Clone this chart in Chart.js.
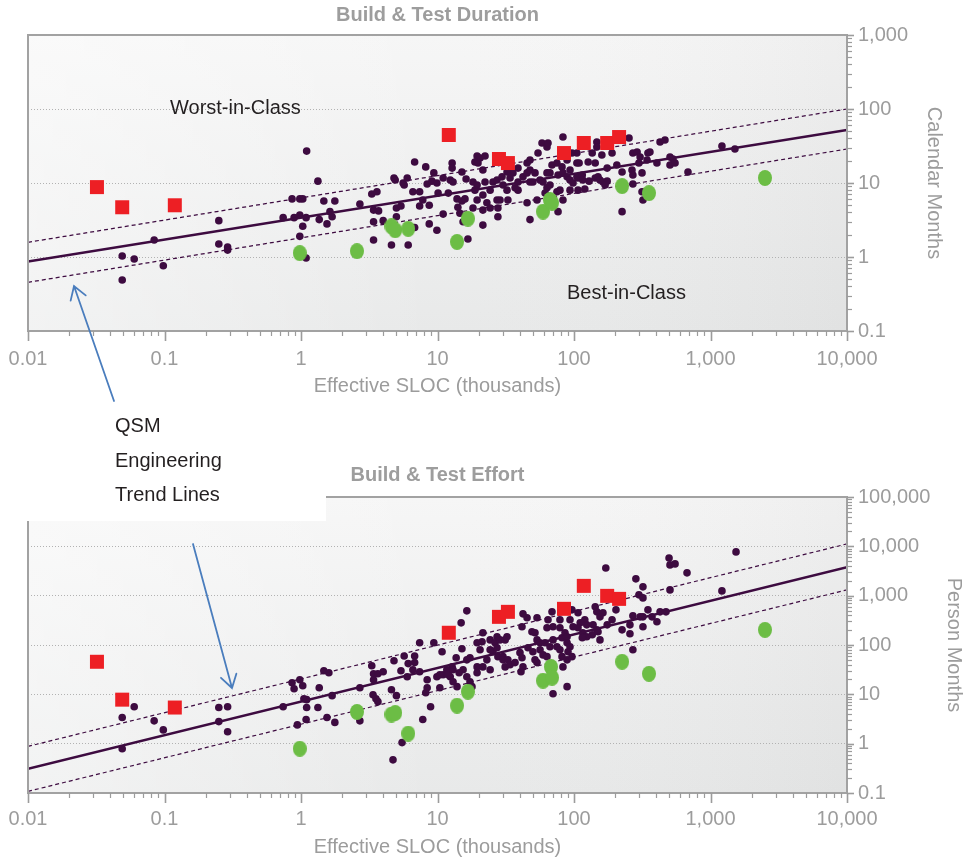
<!DOCTYPE html>
<html>
<head>
<meta charset="utf-8">
<script src="https://cdn.jsdelivr.net/npm/chart.js@4.4.1/dist/chart.umd.min.js"></script>
<style>
  body { margin: 0; background: #fff; width: 969px; height: 862px; position: relative; overflow: hidden;
         font-family: "Liberation Sans", Arial, Helvetica, sans-serif; }
  canvas { position: absolute; left: 0; }
  #durationChart { top: 0; }
  #effortChart { top: 460px; }
  #mask { position: absolute; left: 0; top: 430px; width: 326px; height: 91px; background: #fff; }
  .note { position: absolute; font-size: 20px; line-height: 20px; color: #231f20; white-space: nowrap; }
  #arrows { top: 0; }
</style>
</head>
<body>
<canvas id="durationChart" width="969" height="400"></canvas>
<canvas id="effortChart" width="969" height="402"></canvas>
<div id="mask"></div>
<div class="note" style="left:170px;top:97px">Worst-in-Class</div>
<div class="note" style="left:567px;top:282px">Best-in-Class</div>
<div class="note" style="left:115px;top:415px">QSM</div>
<div class="note" style="left:115px;top:450px">Engineering</div>
<div class="note" style="left:115px;top:484px">Trend Lines</div>
<canvas id="arrows" width="969" height="862"></canvas>
<script>
// tick labels
const slocTicks = [0.01, 0.1, 1, 10, 100, 1000, 10000];
const monthTicks = [0.1, 1, 10, 100, 1000];
const effortTicks = [0.1, 1, 10, 100, 1000, 10000, 100000];

// Build & Test Duration: [ESLOC thousands, calendar months]
const durationProjects = [
  [0.049,1.03],[0.060,0.94],[0.049,0.49],[0.084,1.7],[0.098,0.76],[0.25,3.1],[0.25,1.5],[0.29,1.36],[0.29,1.24],
  [0.74,3.4],[0.86,6.1],[0.89,3.4],[0.98,6.1],[0.98,3.7],[1.03,6.1],[1.03,2.6],[0.98,1.9],[1.09,3.4],[1.09,0.97],[1.1,27],
  [1.33,10.6],[1.36,3.2],[1.47,5.7],[1.55,2.8],[1.63,4.1],[1.69,3.5],[1.77,5.7],
  [2.7,5.2],[3.3,7.1],[3.6,7.6],[3.4,4.3],[3.7,4.2],[3.4,3.0],[3.4,1.7],[4.0,3.1],[4.6,1.45],[5.0,4.6],[5.0,3.5],[5.4,4.9],
  [4.8,11.7],[4.9,11],[5.6,10],[5.7,9.4],[6.0,11.7],[6.8,19.2],[6.6,7.6],[7.4,7.6],[6.8,2.5],[6.1,1.45],
  [8.2,16.5],[8.4,9.7],[9.4,13.7],[8.7,5.0],[7.4,4.9],[7.8,5.9],[8.7,2.8],[9.9,2.3],[9.1,10.6],
  [9.9,10],[11,11.7],[12.8,18.6],[12.8,15.9],[15.1,14.1],[12.4,11],[13,10.3],[16.2,11.3],[19.5,23.2],[20.5,21.8],[22.3,23.2],
  [18.8,19.2],[19.8,18.6],[18.2,10.3],[19.5,9.4],[18.8,8.0],[21.5,15],[22.3,10.3],[25.5,10.3],[27.3,11],[29.7,12.1],[30.2,9.4],
  [10.1,7.3],[12,7.3],[13.9,6.1],[15.1,5.7],[15.9,6.1],[14.1,4.7],[11,3.8],[15.4,3.0],[16.7,1.75],[18.2,4.6],[19.5,5.9],
  [21.5,6.9],[23,5.4],[21.5,4.3],[21.5,2.7],[24.3,4.6],[27.3,5.9],[28.7,5.9],[27.7,4.6],[27.7,3.5],[32.8,5.9],[38.9,8.0],
  [38.9,10.3],[42.3,12.1],[45.3,13.7],[47.6,15],[51.8,13.7],[56.4,11],[59.3,10.3],[47.6,10.3],[50,10.3],[45.3,5.4],[47.6,3.2],
  [53.6,5.9],[63.4,8.6],[66.7,9.4],[75,7.6],[78.9,8.0],[83,5.9],[76.4,4.1],[58.3,34.7],[63.4,30.6],[64.5,34.7],[54.5,25.4],
  [83,41.8],[69,17.5],[75,18.6],[81.7,16.5],[63.4,13.7],[66.7,13.7],[76.4,12.8],[83,13.7],[89,12.1],[93.5,11],[98.4,10],
  [107,11.7],[105,18.6],[107,8.0],[93.5,8.0],[105,25.4],[89,20.5],[45.3,18.6],[38.9,15.9],[47.6,20.5],[35.7,13.7],[32.3,14.1],
  [34,11.7],[24.3,8.0],[32.3,8.0],[37,8.6],[96.6,25.4],[93.5,15],[109,18.6],[127,19.2],[143,18.6],[136,25.4],[147,35.8],
  [147,30.6],[160,23.9],[190,25.4],[175,15.9],[206,17.5],[225,14.1],[253,40.6],[266,15],[270,12.8],[270,25.4],[290,26.2],
  [305,22.5],[348,25.4],[360,26.2],[343,20.5],[315,13.7],[299,18.6],[405,18.6],[427,35.8],[464,38.1],[505,22.5],[531,21.1],
  [505,17.5],[550,18.6],[684,14.1],[1213,31.6],[1510,28.8],[105,12.1],[115,12.8],[116,11],[120,8.3],[129,10.6],[143,11.7],
  [150,12.1],[155,11],[163,10.3],[175,10.6],[169,9.4],[270,9.7],[315,7.6],[320,5.9],[225,4.1],[61.4,7.3],[14.6,3.9]
];
const durationWorst = [[0.032,8.8],[0.049,4.7],[0.119,5.0],[12.1,44.5],[28.2,21.1],[32.8,18.6],[84.5,25.4],[118,34.7],[175,34.7],[214,41.8]];
const durationBest = [[0.98,1.13],[2.57,1.2],[4.6,2.6],[4.9,2.3],[6.1,2.4],[13.9,1.6],[16.7,3.3],[59.3,4.1],[66.7,5.9],[69,5.4],[225,9.1],[354,7.3],[2506,11.7]];
const durationTrend = [[0.01,0.87],[10000,52]];
const durationTrendHigh = [[0.01,1.58],[10000,100]];
const durationTrendLow = [[0.01,0.455],[10000,28.8]];

// Build & Test Effort: [ESLOC thousands, person months]
const effortProjects = [
  [0.049,3.4],[0.060,5.6],[0.049,0.79],[0.084,2.9],[0.098,1.9],[0.25,5.4],[0.29,5.6],[0.25,2.8],[0.29,1.75],
  [0.74,5.6],[0.86,17.2],[0.89,13],[0.98,19.8],[1.03,14.9],[0.94,2.4],[1.05,8.1],[1.1,7.8],[1.1,5.4],[1.09,3.1],[1.33,5.4],
  [1.36,13.6],[1.47,30],[1.6,27.4],[1.55,3.4],[1.69,9.4],[1.77,2.7],[2.7,13.6],[2.7,2.9],[3.3,38],[3.4,26.1],[3.66,26.1],
  [4.0,28.7],[3.4,19.8],[3.37,9.8],[3.54,8.1],[3.66,7.1],[4.6,12.4],[5.0,9.4],[4.8,48],[5.5,1.05],[4.72,0.47],[5.7,60],
  [6.1,42],[6.8,60],[6.8,44],[6.6,31.5],[5.4,30],[6.0,22.7],[7.4,111],[7.4,28.7],[8.4,19.8],[8.4,13.6],[8.2,10.8],[8.9,5.6],
  [7.8,3.1],[9.4,111],[9.9,22.7],[11,24.9],[10.4,13.6],[10.8,73],[12.8,36],[12.4,22.7],[13,18],[13.7,55],[15.1,84],[14.9,281],
  [16.4,492],[15.4,31.5],[16.4,22.7],[17.3,55],[17.9,14.3],[19.5,111],[19.5,36],[19.5,27.4],[21.5,177],[16.4,50],[21.2,116],
  [20.5,80],[24.3,127],[26.4,111],[28.7,127],[25.5,73],[27.7,58],[30.2,58],[24.3,80],[21.5,36],[14.4,27.4],[11.7,31.5],[12,24.9],
  [13.9,14.3],[17.3,18],[27.3,88],[30.2,50],[31.3,36],[32.8,50],[34,40],[24.3,31.5],[23,50],[31.3,127],[32.3,147],[27.3,147],
  [41.6,234],[45.3,356],[42.3,428],[53.6,356],[49.2,185],[51.8,177],[53.6,127],[56.4,111],[46,88],[50,73],[56.4,80],[40.2,70],
  [41.6,55],[37,44],[42.3,36],[51.8,50],[53.6,44],[59.3,63],[63.4,58],[61.4,111],[66.7,92],[70.2,127],[63.4,223],[70.2,234],
  [64.5,324],[69,470],[78.9,223],[81.7,140],[75,92],[78.9,80],[81.7,58],[40.9,28.7],[89,14.3],[70.2,10.3],[85.9,566],[96.6,516],
  [107,449],[143,593],[147,470],[163,449],[155,372],[171,3650],[284,2190],[320,1510],[299,1040],[320,900],[497,5820],[505,4200],
  [550,4400],[673,2900],[505,1310],[1213,1250],[1538,7710],[203,516],[348,516],[320,372],[373,372],[427,470],[472,470],[405,295],
  [270,390],[305,372],[257,256],[320,234],[225,203],[257,169],[270,80],[190,324],[175,256],[120,324],[124,256],[111,281],[107,223],
  [138,256],[147,203],[136,161],[116,177],[124,147],[150,185],[115,140],[155,127],[85.9,177],[89,147],[89,111],[93.5,92],[90.4,73],
  [96.6,58],[89,50],[83,36],[93.5,324],[98.4,234],[78.9,324],[10.4,24.9],[13,31.5]
];
const effortWorst = [[0.032,45.7],[0.049,7.8],[0.119,5.4],[12.1,177],[28.2,372],[32.8,470],[84.5,541],[118,1580],[175,991],[214,861]];
const effortBest = [[0.98,0.79],[2.57,4.4],[4.6,3.9],[4.9,4.2],[6.1,1.6],[13.9,5.9],[16.7,11.3],[59.3,18.9],[67.8,36],[69,21.7],[225,45.7],[354,26.1],[2506,203]];
const effortTrend = [[0.01,0.31],[10000,3780]];
const effortTrendHigh = [[0.01,0.88],[10000,11200]];
const effortTrendLow = [[0.01,0.108],[10000,1310]];

Chart.defaults.font.family = '"Liberation Sans", Arial, Helvetica, sans-serif';
Chart.defaults.font.size = 20;
Chart.defaults.color = '#9c9c9c';

const DOT = '#3d0b40';
const RED = '#ed1f24';
const GREEN = '#6cbd45';

// green marks are slightly taller than wide
const greenMark = (() => {
  const c = document.createElement('canvas');
  c.width = 14; c.height = 16;
  const g = c.getContext('2d');
  g.fillStyle = GREEN;
  g.beginPath();
  g.ellipse(7, 8, 7, 8, 0, 0, Math.PI * 2);
  g.fill();
  return c;
})();

// decade ticks plus unlabeled 2..9 minors
function decadeTicks(decades) {
  return scale => {
    const list = [];
    decades.forEach((d, i) => {
      list.push({ value: d, major: true });
      if (i < decades.length - 1) {
        for (let k = 2; k < 10; k++) list.push({ value: d * k, major: false });
      }
    });
    scale.ticks = list;
  };
}

function tickLabel(value, index, ticks) {
  return ticks[index].major ? Number(value).toLocaleString('en-US') : '';
}

const plotFrame = {
  id: 'plotFrame',
  beforeDraw(chart) {
    const { ctx, chartArea: a } = chart;
    ctx.save();
    const v = ctx.createLinearGradient(0, a.top, 0, a.bottom);
    v.addColorStop(0, '#f6f6f6');
    v.addColorStop(1, '#e8e9e9');
    ctx.fillStyle = v;
    ctx.fillRect(a.left, a.top, a.right - a.left, a.bottom - a.top);
    const h = ctx.createLinearGradient(a.left, 0, a.right, 0);
    h.addColorStop(0, 'rgba(255,255,255,0.45)');
    h.addColorStop(0.5, 'rgba(255,255,255,0)');
    h.addColorStop(1, 'rgba(0,0,0,0.03)');
    ctx.fillStyle = h;
    ctx.fillRect(a.left, a.top, a.right - a.left, a.bottom - a.top);
    ctx.restore();
  },
  afterDraw(chart, args, opts) {
    const { ctx, chartArea: a, scales: { x, y } } = chart;
    ctx.save();
    ctx.strokeStyle = '#a2a2a2';
    ctx.lineWidth = 2;
    ctx.strokeRect(a.left, a.top, a.right - a.left, a.bottom - a.top);

    ctx.strokeStyle = '#9c9c9c';
    x.ticks.forEach(t => {
      const px = Math.round(x.getPixelForValue(t.value)) + 0.5;
      ctx.lineWidth = t.major ? 1.6 : 1.2;
      ctx.beginPath();
      ctx.moveTo(px, a.bottom);
      ctx.lineTo(px, a.bottom + (t.major ? 10 : 5));
      ctx.stroke();
    });
    y.ticks.forEach(t => {
      const py = Math.round(y.getPixelForValue(t.value)) + 0.5;
      ctx.lineWidth = t.major ? 1.6 : 1.2;
      ctx.beginPath();
      ctx.moveTo(a.right, py);
      ctx.lineTo(a.right + (t.major ? 7 : 5), py);
      ctx.stroke();
    });

    ctx.fillStyle = '#9d9d9d';
    ctx.font = 'bold 20px "Liberation Sans", Arial, Helvetica, sans-serif';
    ctx.textAlign = 'center';
    ctx.textBaseline = 'middle';
    ctx.fillText(opts.title, (a.left + a.right) / 2, 15);
    ctx.restore();
  }
};

const pts = list => list.map(([x, y]) => ({ x, y }));

function makeChart(id, o) {
  return new Chart(document.getElementById(id), {
    type: 'scatter',
    data: {
      datasets: [
        { data: pts(o.best), pointStyle: greenMark, pointRadius: 8, order: 1 },
        { data: pts(o.worst), pointStyle: 'rect', pointRadius: 9.9, backgroundColor: RED, borderWidth: 0, order: 2 },
        { data: pts(o.trend), showLine: true, borderColor: DOT, borderWidth: 2.6, pointRadius: 0, order: 3 },
        { data: pts(o.high), showLine: true, borderColor: DOT, borderWidth: 1.2, borderDash: [4, 3], pointRadius: 0, order: 3 },
        { data: pts(o.low), showLine: true, borderColor: DOT, borderWidth: 1.2, borderDash: [4, 3], pointRadius: 0, order: 3 },
        { data: pts(o.projects), pointRadius: 3.8, backgroundColor: DOT, borderWidth: 0, order: 4 }
      ]
    },
    options: {
      responsive: false,
      animation: false,
      devicePixelRatio: 1,
      events: [],
      layout: { padding: { left: 28, top: o.top, right: 0, bottom: 0 } },
      plugins: {
        legend: { display: false },
        tooltip: { enabled: false },
        plotFrame: { title: o.title }
      },
      scales: {
        x: {
          type: 'logarithmic',
          min: 0.01,
          max: 10000,
          afterBuildTicks: decadeTicks(slocTicks),
          afterFit: s => { s.height = 69; s.paddingLeft = 0; s.paddingRight = 0; },
          grid: { display: false, drawTicks: false },
          border: { display: false },
          ticks: { autoSkip: false, maxRotation: 0, padding: o.xPad, callback: tickLabel },
          title: { display: true, text: 'Effective SLOC (thousands)', padding: { top: 0, bottom: o.xTitlePad } }
        },
        y: {
          type: 'logarithmic',
          position: 'right',
          min: o.yTicks[0],
          max: o.yTicks[o.yTicks.length - 1],
          afterBuildTicks: decadeTicks(o.yTicks),
          afterFit: s => { s.width = 122; s.paddingTop = 0; s.paddingBottom = 0; },
          grid: { drawTicks: false, lineWidth: 1, color: c => (c.tick && c.tick.major ? '#b2b2b2' : 'rgba(0,0,0,0)') },
          border: { display: false, dash: [1, 2] },
          ticks: { autoSkip: false, padding: 11, callback: tickLabel },
          title: { display: true, text: o.yTitle, padding: { top: o.yTitlePad, bottom: 0 } }
        }
      }
    },
    plugins: [plotFrame]
  });
}

makeChart('durationChart', {
  title: 'Build & Test Duration', yTitle: 'Calendar Months', yTicks: monthTicks,
  projects: durationProjects, worst: durationWorst, best: durationBest,
  trend: durationTrend, high: durationTrendHigh, low: durationTrendLow,
  top: 35, xPad: 16, xTitlePad: 2, yTitlePad: 23
});

makeChart('effortChart', {
  title: 'Build & Test Effort', yTitle: 'Person Months', yTicks: effortTicks,
  projects: effortProjects, worst: effortWorst, best: effortBest,
  trend: effortTrend, high: effortTrendHigh, low: effortTrendLow,
  top: 37, xPad: 14, xTitlePad: 3, yTitlePad: 3
});

// callout arrows
const g = document.getElementById('arrows').getContext('2d');
g.strokeStyle = '#4a7dbd';
g.lineWidth = 1.8;
g.lineCap = 'round';
function arrow(x1, y1, x2, y2) {
  const ang = Math.atan2(y1 - y2, x1 - x2);
  const len = 15, spread = 0.56;
  g.beginPath();
  g.moveTo(x1, y1);
  g.lineTo(x2, y2);
  g.moveTo(x2 + len * Math.cos(ang - spread), y2 + len * Math.sin(ang - spread));
  g.lineTo(x2, y2);
  g.lineTo(x2 + len * Math.cos(ang + spread), y2 + len * Math.sin(ang + spread));
  g.stroke();
}
arrow(114, 401, 74, 286);
arrow(193, 544, 232, 688);
</script>
</body>
</html>
